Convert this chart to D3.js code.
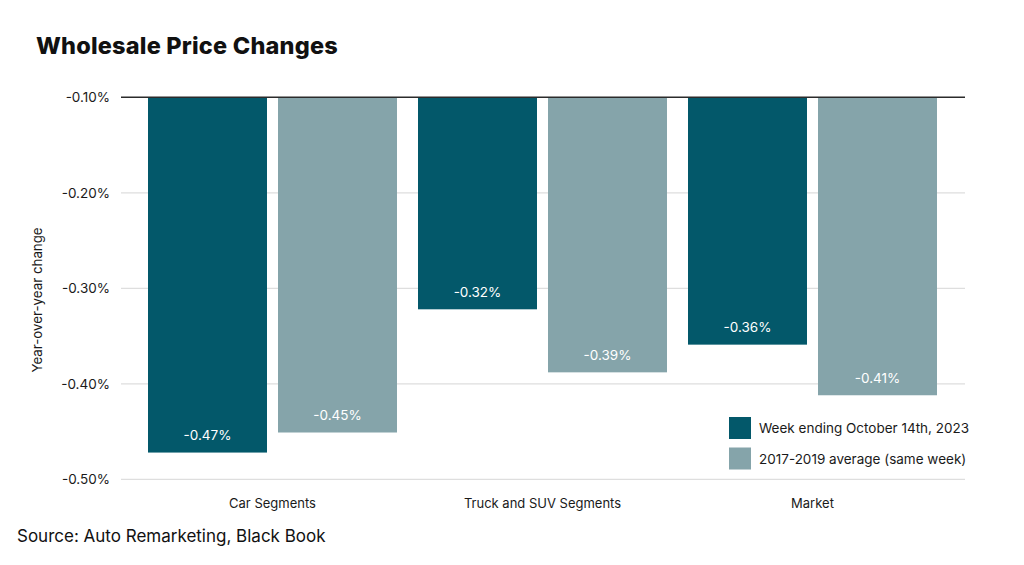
<!DOCTYPE html>
<html>
<head>
<meta charset="utf-8">
<script src="https://cdn.jsdelivr.net/npm/d3@7"></script>
<style>
  body { margin: 0; background: #fff; }
  svg text { font-family: Inter, "Liberation Sans", Arial, sans-serif; }
</style>
</head>
<body>
<script>
(function () {

    //chart data
    var categories = ["Car Segments", "Truck and SUV Segments", "Market"];
    var seriesNames = ["Week ending October 14th, 2023", "2017-2019 average (same week)"];
    var weekValues = [-0.472, -0.322, -0.359];
    var avgValues = [-0.451, -0.388, -0.412];
    var yTicks = [-0.1, -0.2, -0.3, -0.4, -0.5];
    var colors = ["#03586a", "#85a4aa"];

    //percent format with a plain hyphen for the minus sign
    var pct = d3.formatLocale({ decimal: ".", thousands: ",", grouping: [3], currency: ["", ""], minus: "-" })
        .format(".2f");
    function fmt(d) { return pct(d) + "%"; }

    window.onload = setChart();

    function setChart() {
        var width = 1024,
            height = 565;

        var svg = d3.select("body")
            .append("svg")
            .attr("width", width)
            .attr("height", height);

        //scales
        var yScale = d3.scaleLinear()
            .domain([-0.1, -0.5])
            .range([97.3, 479.3]);

        var xScale = d3.scaleBand()
            .domain(categories)
            .range([137.5, 947.5]);

        var xInner = d3.scaleBand()
            .domain([0, 1])
            .range([0, xScale.bandwidth()])
            .paddingInner(0.0846)
            .paddingOuter(0.0808);

        //gridlines
        svg.selectAll(".grid")
            .data(yTicks.slice(1))
            .enter()
            .append("line")
            .attr("class", "grid")
            .attr("x1", 121)
            .attr("x2", 965)
            .attr("y1", function (d) { return yScale(d); })
            .attr("y2", function (d) { return yScale(d); })
            .style("stroke", "#dedede")
            .style("stroke-width", 1.2);

        //y axis labels
        var yAxis = d3.axisLeft(yScale)
            .tickValues(yTicks)
            .tickSize(0)
            .tickPadding(11)
            .tickFormat(fmt);

        var axis = svg.append("g")
            .attr("transform", "translate(121,0)")
            .call(yAxis);
        axis.select(".domain").remove();
        axis.selectAll("text")
            .style("font-size", "13.5px")
            .style("fill", "#1a1a1a")
            .style("font-family", "Inter, 'Liberation Sans', Arial, sans-serif");

        //bars
        var rows = categories.map(function (c, i) {
            return [{ cat: c, s: 0, v: weekValues[i] }, { cat: c, s: 1, v: avgValues[i] }];
        });

        var groups = svg.selectAll(".group")
            .data(rows)
            .enter()
            .append("g")
            .attr("class", "group")
            .attr("transform", function (d) { return "translate(" + xScale(d[0].cat) + ",0)"; });

        groups.selectAll("rect")
            .data(function (d) { return d; })
            .enter()
            .append("rect")
            .attr("x", function (d) { return xInner(d.s); })
            .attr("width", xInner.bandwidth())
            .attr("y", yScale(-0.1))
            .attr("height", function (d) { return yScale(d.v) - yScale(-0.1); })
            .style("fill", function (d) { return colors[d.s]; });

        groups.selectAll(".val")
            .data(function (d) { return d; })
            .enter()
            .append("text")
            .attr("class", "val")
            .attr("x", function (d) { return xInner(d.s) + xInner.bandwidth() / 2; })
            .attr("y", function (d) { return yScale(d.v) - 12.5; })
            .attr("text-anchor", "middle")
            .style("font-size", "13.5px")
            .style("fill", "#ffffff")
            .text(function (d) { return fmt(d.v); });

        //top baseline at -0.10%
        svg.append("line")
            .attr("x1", 121)
            .attr("x2", 965)
            .attr("y1", yScale(-0.1))
            .attr("y2", yScale(-0.1))
            .style("stroke", "#2b2b2b")
            .style("stroke-width", 1.6);

        //x labels
        svg.selectAll(".xlab")
            .data(categories)
            .enter()
            .append("text")
            .attr("class", "xlab")
            .attr("x", function (d) { return xScale(d) + xScale.bandwidth() / 2; })
            .attr("y", 508)
            .attr("text-anchor", "middle")
            .style("font-size", "13px")
            .style("fill", "#1a1a1a")
            .text(function (d) { return d; });

        //axis title
        svg.append("text")
            .attr("transform", "translate(42,300) rotate(-90)")
            .attr("text-anchor", "middle")
            .style("font-size", "13.3px")
            .style("fill", "#1a1a1a")
            .text("Year-over-year change");

        //title
        svg.append("text")
            .attr("x", 36)
            .attr("y", 54)
            .style("font-size", "23.5px")
            .style("font-weight", "800")
            .style("letter-spacing", "0.2px")
            .style("fill", "#111")
            .text("Wholesale Price Changes");

        //source
        svg.append("text")
            .attr("x", 17)
            .attr("y", 542)
            .style("font-size", "17px")
            .style("fill", "#111")
            .text("Source: Auto Remarketing, Black Book");

        //legend
        var legend = svg.selectAll(".legend")
            .data(seriesNames)
            .enter()
            .append("g")
            .attr("class", "legend")
            .attr("transform", function (d, i) { return "translate(729," + (417 + i * 30.5) + ")"; });

        legend.append("rect")
            .attr("width", 22)
            .attr("height", 22)
            .style("fill", function (d, i) { return colors[i]; });

        legend.append("text")
            .attr("x", 30)
            .attr("y", 16)
            .style("font-size", "13.5px")
            .style("fill", "#1a1a1a")
            .text(function (d) { return d; });
    };
})();
</script>
</body>
</html>
